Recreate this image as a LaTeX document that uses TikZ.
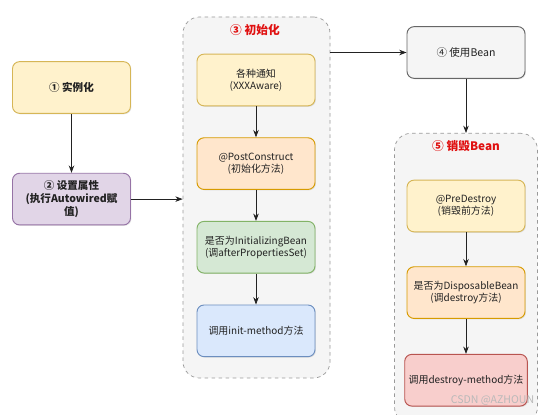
\documentclass[tikz,border=0pt]{standalone}
\usepackage{fontspec}
\setmainfont{Noto Sans CJK SC}
\usepackage{xcolor}
\usetikzlibrary{arrows.meta, positioning, shadows}
\definecolor{YellowFill}{HTML}{FFF2CC}
\definecolor{YellowLine}{HTML}{D6B656}
\definecolor{PurpleFill}{HTML}{E1D5E7}
\definecolor{PurpleLine}{HTML}{9673A6}
\definecolor{OrangeFill}{HTML}{FFE6CC}
\definecolor{OrangeLine}{HTML}{D79B00}
\definecolor{GreenFill}{HTML}{D5E8D4}
\definecolor{GreenLine}{HTML}{82B366}
\definecolor{BlueFill}{HTML}{DAE8FC}
\definecolor{BlueLine}{HTML}{6C8EBF}
\definecolor{RedFill}{HTML}{F8CECC}
\definecolor{RedLine}{HTML}{B85450}
\definecolor{GrayFill}{HTML}{F5F5F5}
\definecolor{GrayLine}{HTML}{666666}
\definecolor{TitleRed}{HTML}{E01010}
\definecolor{TextDark}{HTML}{222222}

\begin{document}
\begin{tikzpicture}[
  stage/.style={draw, rounded corners=6pt, minimum width=3.54cm, minimum height=1.55cm,
                font=\fontsize{8.5}{10.5}\selectfont, text=TextDark, align=center, thick,
                drop shadow={opacity=0.2, shadow xshift=0.8pt, shadow yshift=-0.8pt}},
  group/.style={draw=gray!80, dashed, rounded corners=14pt, fill=GrayFill, semithick},
  ttl/.style={font=\fontsize{10}{12}\selectfont\bfseries, text=TitleRed},
  arr/.style={-{Stealth[length=2.2mm]}, semithick, color=TextDark},
  node distance=0.93cm,
]
\useasboundingbox (0,0) rectangle (16.59,-12.45);
\clip (0,0) rectangle (16.59,-12.45);
\fill[white] (0,0) rectangle (16.59,-12.45);
%% Containers
\node[group, minimum width=4.41cm, minimum height=10.83cm] (c3) at (7.695,-5.925) {};
\node[ttl] (t3) at (7.65,-0.9) {③ 初始化};
\node[group, minimum width=4.29cm, minimum height=8.7cm, anchor=north] (c5) at (13.98,-3.99) {};
\node[ttl] (t5) at (13.98,-4.38) {⑤ 销毁Bean};
%% Left column
\node[stage, fill=YellowFill, draw=YellowLine, font=\fontsize{9}{11}\selectfont\bfseries] (inst) at (2.145,-2.625) {① 实例化};
\node[stage, fill=PurpleFill, draw=PurpleLine, font=\fontsize{9}{11}\selectfont\bfseries, below=1.77cm of inst] (prop) {② 设置属性\\(执行Autowired赋\\值)};
%% Initialization
\node[stage, fill=YellowFill, draw=YellowLine] (aware) at (7.68,-2.4) {各种通知\\(XXXAware)};
\node[stage, fill=OrangeFill, draw=OrangeLine, below=of aware] (post) {@PostConstruct\\(初始化方法)};
\node[stage, fill=GreenFill, draw=GreenLine, below=of post] (initb) {是否为InitializingBean\\(调afterPropertiesSet)};
\node[stage, fill=BlueFill, draw=BlueLine, below=of initb] (initm) {调用init-method方法};
%% Use
\node[stage, fill=GrayFill, draw=GrayLine, font=\fontsize{9}{11}\selectfont] (use) at (13.98,-1.575) {④ 使用Bean};
%% Destruction
\node[stage, fill=YellowFill, draw=YellowLine] (pre) at (13.98,-6.18) {@PreDestroy\\(销毁前方法)};
\node[stage, fill=OrangeFill, draw=OrangeLine, below=1.02cm of pre] (disp) {是否为DisposableBean\\(调destroy方法)};
\node[stage, fill=RedFill, draw=RedLine, below=1.05cm of disp] (destm) {调用destroy-method方法};
%% Connectors
\draw[arr] (inst.south) -- (prop.north);
\draw[arr] (prop.east) -- (prop.east -| c3.west);
\draw[arr] (aware.south) -- (post.north);
\draw[arr] (post.south) -- (initb.north);
\draw[arr] (initb.south) -- (initm.north);
\draw[arr] (use.west -| c3.east) -- (use.west);
\draw[arr] (use.south) -- (c5.north);
\draw[arr] (pre.south) -- (disp.north);
\draw[arr] (disp.south) -- (destm.north);
%% Watermark
\node[anchor=west, text=gray!55, font=\fontsize{9}{11}\selectfont] (mark) at (13.4,-12.0) {CSDN @AZHOUN};
\end{tikzpicture}
\end{document}
